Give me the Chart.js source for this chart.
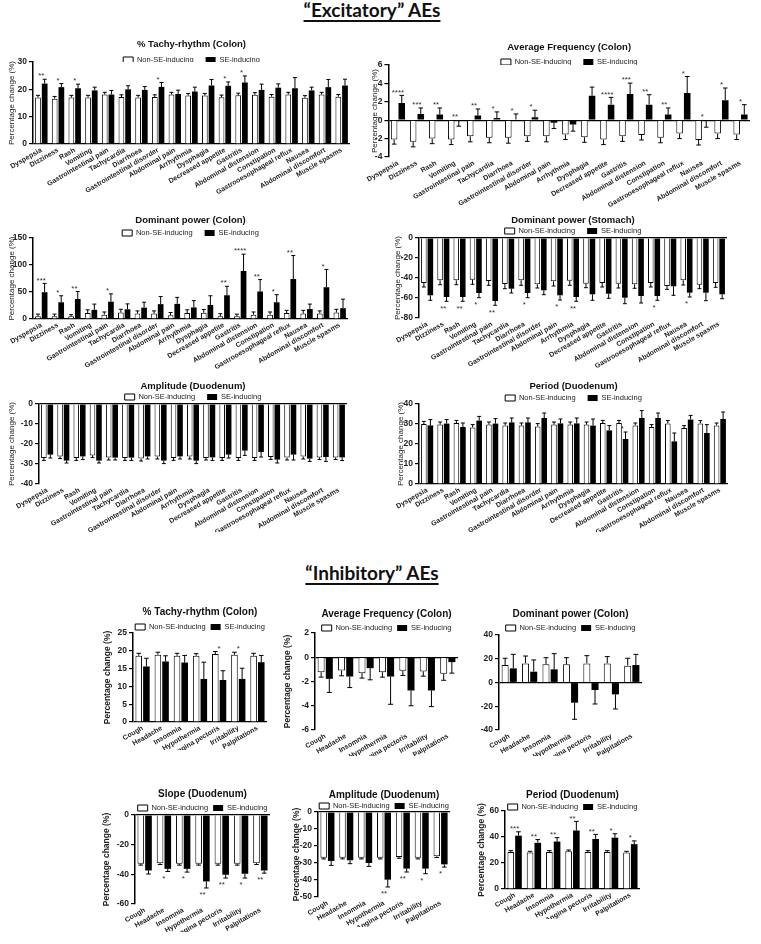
<!DOCTYPE html>
<html>
<head>
<meta charset="utf-8">
<title>Excitatory / Inhibitory AEs</title>
<script src="https://cdn.jsdelivr.net/npm/chart.js@4.4.1/dist/chart.umd.min.js"></script>
<style>
  html, body { margin: 0; padding: 0; background: #fff; }
  body { width: 761px; height: 944px; position: relative; overflow: hidden; }
  .section { position: absolute; left: 0; width: 744px; text-align: center; line-height: 19px; }
  .section span { font-family: Lato, 'Open Sans', sans-serif; font-weight: bold; font-size: 19px; color: #111;
                  text-decoration: underline; text-decoration-thickness: 2px; text-underline-offset: 3px; }
  canvas { position: absolute; }
</style>
</head>
<body>
<div class="section" style="top:0px"><span>“Excitatory” AEs</span></div>
<div class="section" style="top:563px"><span>“Inhibitory” AEs</span></div>
<script>
// Categories
const exCategories = ['Dyspepsia', 'Dizziness', 'Rash', 'Vomiting', 'Gastrointestinal pain', 'Tachycardia',
    'Diarrhoea', 'Gastrointestinal disorder', 'Abdominal pain', 'Arrhythmia', 'Dysphagia', 'Decreased appetite',
    'Gastritis', 'Abdominal distension', 'Constipation', 'Gastrooesophageal reflux', 'Nausea',
    'Abdominal discomfort', 'Muscle spasms'];
const inCategories = ['Cough', 'Headache', 'Insomnia', 'Hypothermia', 'Angina pectoris', 'Irritability', 'Palpitations'];

// "Excitatory" – % Tachy-rhythm (Colon)
const tachyNon = [17.0, 16.6, 17.0, 17.0, 18.1, 17.2, 17.0, 17.2, 18.1, 17.7, 17.7, 17.1, 17.8, 18.0, 17.3, 18.1, 16.9, 18.1, 17.3];
const tachyNonErr = [0.8, 0.8, 0.8, 0.8, 0.8, 0.8, 0.8, 0.8, 0.8, 0.8, 0.8, 0.8, 0.8, 0.8, 0.8, 0.8, 0.8, 0.8, 0.8];
const tachySe = [22.1, 20.8, 20.4, 19.6, 18.1, 20.0, 19.8, 20.9, 18.3, 19.2, 21.4, 21.3, 22.5, 19.8, 20.6, 20.4, 19.6, 20.8, 21.4];
const tachySeErr = [1.6, 1.3, 1.5, 1.2, 1.5, 1.3, 1.2, 1.6, 1.4, 1.6, 2.2, 1.4, 2.4, 2.1, 1.4, 3.9, 1.2, 2.8, 2.3];
const tachyStars = ['**', '*', '*', '', '', '', '', '*', '', '', '', '*', '*', '', '', '', '', '', ''];

// "Excitatory" – Average Frequency (Colon)
const freqNon = [-2.1, -2.35, -2.0, -2.1, -1.75, -1.9, -1.9, -1.75, -1.75, -1.55, -1.85, -2.1, -1.75, -1.6, -1.9, -1.45, -2.15, -1.45, -1.55];
const freqNonErr = [0.5, 0.55, 0.55, 0.55, 0.6, 0.55, 0.6, 0.55, 0.6, 0.55, 0.55, 0.55, 0.55, 0.55, 0.55, 0.55, 0.55, 0.55, 0.55];
const freqSe = [1.87, 0.68, 0.61, -0.07, 0.5, 0.25, 0.07, 0.32, -0.29, -0.47, 2.66, 1.69, 2.84, 1.69, 0.61, 2.95, -0.1, 2.16, 0.61];
const freqSeErr = [0.83, 0.65, 0.72, 0.58, 0.72, 0.65, 0.61, 0.76, 0.61, 0.72, 0.94, 0.79, 1.19, 1.08, 0.72, 1.8, 0.66, 1.34, 1.08];
const freqStars = ['****', '***', '**', '**', '**', '*', '*', '*', '', '', '', '****', '***', '**', '**', '*', '*', '*', '*'];

// "Excitatory" – Dominant power (Colon)
const domColNon = [5, 5, 5, 11, 8, 12, 10, 10, 7, 11, 11.6, 5, 5, 8, 8, 11, 10, 10, 12];
const domColNonErr = [4, 4, 3, 6, 5, 6, 5, 5, 5, 6, 6, 4.8, 4, 5, 5, 5, 6, 5, 6];
const domColSe = [49.6, 31, 37, 17, 32, 18, 21, 27.5, 28, 21.4, 26, 44, 89, 51, 31, 74, 18.4, 58.8, 20];
const domColSeErr = [16.4, 12, 14, 10.6, 14.5, 10, 10, 14, 12, 12.6, 17, 16.6, 31, 22, 14, 43.5, 9.2, 33, 16.7];
const domColStars = ['***', '*', '**', '', '*', '', '', '', '', '', '', '**', '****', '**', '*', '**', '', '*', ''];

// "Excitatory" – Dominant power (Stomach)
const domStNon = [-45, -42.3, -42.3, -41.7, -43, -46, -42.3, -46.3, -43.3, -42.7, -45.7, -45, -45.7, -46.3, -45, -48, -42.3, -46.7, -45];
const domStNonErr = [4, 4.4, 4.4, 4.6, 4.3, 4.7, 5, 3.7, 4.7, 4.6, 4, 4, 4.3, 4, 4, 3.3, 4.7, 4, 4.3];
const domStSe = [-57.3, -59, -59, -55, -63, -50.7, -55, -52.3, -57.3, -59, -56.3, -55.7, -59.7, -58, -58, -48.3, -54.7, -54.7, -56.3];
const domStSeErr = [5, 4.3, 4.3, 4.7, 4.3, 4.3, 4.7, 4.4, 4.7, 4.3, 6, 4.6, 6, 7, 4.3, 9, 4.3, 8, 4.4];
const domStStars = ['', '**', '**', '*', '**', '', '*', '', '*', '**', '', '', '', '', '*', '', '*', '', ''];

// "Excitatory" – Amplitude (Duodenum)
const ampNon = [-27, -26.2, -27, -25.7, -26.8, -27, -27.3, -26.3, -27, -26.3, -27, -27, -27, -27, -26.5, -26.8, -26.3, -26.7, -26.7];
const ampNonErr = [1.2, 1.1, 1.2, 1.1, 1.2, 1.2, 1.2, 1.2, 1.2, 1.2, 1.0, 1.2, 1.2, 1.2, 1.2, 1.2, 1.2, 1.1, 1.1];
const ampSe = [-25.3, -28.3, -26.2, -28.3, -26.8, -26.8, -26.2, -28.3, -26.2, -28.3, -26.7, -25.3, -23.3, -24, -27.8, -25.3, -27.3, -26.5, -26.7];
const ampSeErr = [1.7, 1.2, 1.6, 1.2, 1.2, 1.4, 1.3, 1.5, 1.3, 1.5, 1.5, 1.7, 2.4, 2.5, 1.7, 2.7, 1.4, 2.2, 1.6];

// "Excitatory" – Period (Duodenum)
const perNon = [30, 29.7, 30.5, 28.3, 29.7, 29.3, 29.2, 28.8, 29.7, 29.7, 29.7, 30.5, 30.5, 29.3, 28.5, 30.3, 28, 30.3, 29.3];
const perNonErr = [1.3, 1.3, 1.3, 1.4, 1.3, 1.2, 1.3, 1.4, 1.3, 1.3, 1.3, 1.3, 1.3, 1.2, 1.2, 1.4, 1.2, 1.4, 1.2];
const perSe = [29.3, 30.2, 28.5, 31.7, 30.2, 30.8, 30.8, 33, 30.3, 30.3, 29.2, 26.8, 22.5, 33, 33, 21.3, 32.2, 25.5, 32.5];
const perSeErr = [2.9, 2, 2, 2.1, 2.5, 2.2, 2.2, 2.5, 2.2, 2.7, 3.3, 2.4, 3.5, 3.7, 2.5, 4.2, 2.1, 4.2, 3.5];
const perStars = ['', '', '', '', '', '', '', '', '', '', '', '', '*', '', '', '', '', '', ''];

// "Inhibitory" – % Tachy-rhythm (Colon)
const inTachyNon = [18.6, 18.9, 18.6, 18.6, 19.1, 18.9, 18.6];
const inTachyNonErr = [0.7, 0.7, 0.7, 0.6, 0.7, 0.7, 0.7];
const inTachySe = [15.6, 17, 16.7, 12.1, 11.8, 12.1, 16.8];
const inTachySeErr = [2.3, 1.6, 2, 4.7, 2.6, 3, 1.9];
const inTachyStars = ['', '', '', '', '*', '*', ''];

// "Inhibitory" – Average Frequency (Colon)
const inFreqNon = [-1.23, -1.09, -1.31, -1.23, -1.12, -1.17, -1.37];
const inFreqNonErr = [0.41, 0.44, 0.41, 0.41, 0.38, 0.39, 0.53];
const inFreqSe = [-1.78, -1.59, -0.9, -1.59, -2.74, -2.74, -0.4];
const inFreqSeErr = [1.12, 0.91, 0.96, 2.29, 1.26, 1.33, 0.91];

// "Inhibitory" – Dominant power (Colon)
const inDomNon = [14.7, 16.1, 15.3, 15.3, 16.1, 16.1, 14.2];
const inDomNonErr = [5.7, 6.2, 5.6, 5.6, 6.5, 5.7, 6.2];
const inDomSe = [11.9, 9.1, 11.1, -17, -6.3, -10, 14.7];
const inDomSeErr = [11.8, 9.9, 13.2, 14, 11.8, 12.3, 9];

// "Inhibitory" – Slope (Duodenum)
const slopeNon = [-32.9, -32.5, -32.9, -32.9, -32.9, -32.9, -32.5];
const slopeNonErr = [0.9, 0.9, 0.9, 0.9, 0.9, 0.9, 0.9];
const slopeSe = [-37.4, -36.3, -36.3, -44.8, -40.3, -39.6, -37.4];
const slopeSeErr = [2.4, 1.8, 2.2, 4.4, 2.2, 2.9, 1.8];
const slopeStars = ['', '*', '*', '**', '**', '*', '**'];

// "Inhibitory" – Amplitude (Duodenum)
const inAmpNon = [-26.9, -26.9, -26.9, -26.9, -26.5, -26.9, -26.1];
const inAmpNonErr = [0.7, 0.7, 0.7, 0.7, 0.7, 0.7, 0.7];
const inAmpSe = [-28.8, -28.4, -30, -39.8, -33.3, -33.3, -30.8];
const inAmpSeErr = [2.6, 2, 2, 4.3, 2, 3, 1.6];
const inAmpStars = ['', '', '', '**', '**', '*', '*'];

// "Inhibitory" – Period (Duodenum)
const inPerNon = [28.5, 28, 28.5, 29, 28.5, 28.5, 28];
const inPerNonErr = [1, 1, 1, 1, 1, 1, 1];
const inPerSe = [41, 35.5, 36.5, 45, 38.5, 39.5, 34.5];
const inPerSeErr = [3, 2.5, 3, 7, 3.5, 3, 2.5];
const inPerStars = ['***', '**', '**', '**', '**', '*', '*'];

const FONT = "'Liberation Sans', Arial, sans-serif";
Chart.defaults.font.family = FONT;
Chart.defaults.color = '#222';

// SEM bars, drawn away from zero
const errorBarPlugin = {
    id: 'errorBars',
    afterDatasetsDraw(chart) {
        const ctx = chart.ctx;
        const yScale = chart.scales.y;
        ctx.save();
        ctx.strokeStyle = '#000';
        ctx.lineWidth = 1;
        chart.data.datasets.forEach((ds, di) => {
            if (!ds.errors) return;
            chart.getDatasetMeta(di).data.forEach((bar, i) => {
                const v = ds.data[i];
                const end = v < 0 ? v - ds.errors[i] : v + ds.errors[i];
                const y0 = yScale.getPixelForValue(v);
                const y1 = yScale.getPixelForValue(end);
                const cap = bar.width * 0.35;
                ctx.beginPath();
                ctx.moveTo(bar.x, y0);
                ctx.lineTo(bar.x, y1);
                ctx.moveTo(bar.x - cap, y1);
                ctx.lineTo(bar.x + cap, y1);
                ctx.stroke();
            });
        });
        ctx.restore();
    }
};

// significance asterisks
const starPlugin = {
    id: 'stars',
    afterDatasetsDraw(chart, args, opts) {
        if (!opts || !opts.labels) return;
        const ctx = chart.ctx;
        const yScale = chart.scales.y;
        const xScale = chart.scales.x;
        ctx.save();
        ctx.fillStyle = '#333';
        ctx.font = opts.size + 'px ' + FONT;
        ctx.textAlign = 'center';
        opts.labels.forEach((s, i) => {
            if (!s) return;
            const ends = [0];
            chart.data.datasets.forEach((ds, di) => {
                if (opts.mode === 'aboveSE' && di === 0) return;
                const v = ds.data[i];
                ends.push(v, v < 0 ? v - ds.errors[i] : v + ds.errors[i]);
            });
            const x = xScale.getPixelForValue(i);
            if (opts.mode === 'below') {
                ctx.textBaseline = 'top';
                ctx.fillText(s, x, yScale.getPixelForValue(Math.min(...ends)) + 3);
            } else {
                ctx.textBaseline = 'bottom';
                ctx.fillText(s, x, yScale.getPixelForValue(Math.max(...ends)) + 1);
            }
        });
        ctx.restore();
    }
};

Chart.register(errorBarPlugin, starPlugin);

// legend: fixed height, one row, centred over the plot
function legendBox(h, minWidth) {
    return {
        id: 'legendBox',
        beforeInit(chart) {
            const fit = chart.legend.fit;
            chart.legend.fit = function () {
                this.maxWidth = Math.max(this.maxWidth, 400);
                fit.call(this);
                this.height = h;
            };
        },
        afterLayout(chart) {
            const lg = chart.legend;
            const c = (chart.chartArea.left + chart.chartArea.right) / 2;
            const w = Math.max(minWidth, chart.chartArea.right - chart.chartArea.left);
            lg.left = c - w / 2;
            lg.right = c + w / 2;
            lg.width = w;
        }
    };
}

const EX = { titleSize: 9.5, legendSize: 7.5, legendPad: 12, yTitleSize: 8, yTitleBold: false, tickSize: 8.5, xFont: 7, rot: 30 };
const IN = { titleSize: 10, legendSize: 7.5, legendPad: 5, yTitleSize: 8.5, yTitleBold: true, tickSize: 8.5, xFont: 7, rot: 30 };

function addPanel(p) {
    const lhT = p.titleSize * 1.2;
    const top = Math.round(p.titleY - lhT / 2);
    const left = Math.round(p.yTitleX !== null ? p.yTitleX - 8 : p.L - 30);
    const right = Math.round(Math.max(p.R + 4, (p.L + p.R) / 2 + 82));
    const lhY = p.yTitleSize * 1.2;
    const yBoxLeft = p.yTitleX !== null ? p.yTitleX - lhY / 2 : p.L - 24;
    const itemH = Math.max(p.legendSize, 6);
    const titleH = Math.max(0, p.legendY - top - p.legendPad - itemH / 2);
    const legendH = p.T - top - titleH;

    const canvas = document.createElement('canvas');
    canvas.width = right - left;
    canvas.height = Math.round(p.B - top + p.xH);
    canvas.style.left = left + 'px';
    canvas.style.top = top + 'px';
    document.body.appendChild(canvas);

    return new Chart(canvas, {
        type: 'bar',
        data: {
            labels: p.labels,
            datasets: [
                { label: 'Non-SE-inducing', data: p.non, errors: p.nonErr, backgroundColor: '#fff', borderColor: '#000', borderWidth: 1 },
                { label: 'SE-inducing', data: p.se, errors: p.seErr, backgroundColor: '#000', borderColor: '#000', borderWidth: 0 }
            ]
        },
        options: {
            responsive: false,
            animation: false,
            devicePixelRatio: 1,
            layout: { padding: { left: yBoxLeft - left, right: right - p.R, top: 0, bottom: 0 } },
            datasets: { bar: { categoryPercentage: 0.8, barPercentage: 0.86 } },
            scales: {
                x: {
                    grid: { display: false, drawTicks: false },
                    border: { display: false },
                    ticks: { autoSkip: false, minRotation: p.rot, maxRotation: p.rot, padding: 2,
                             font: { size: p.xFont, weight: 'bold' }, color: '#222' },
                    afterFit: s => { s.height = p.xH; }
                },
                y: {
                    min: p.min, max: p.max,
                    ticks: { stepSize: p.step, padding: 2, font: { size: p.tickSize, weight: 'bold' }, color: '#222' },
                    grid: {
                        color: c => (c.tick && c.tick.value === 0) ? '#000' : 'rgba(0,0,0,0)',
                        lineWidth: 1.2, tickColor: '#000', tickLength: 4
                    },
                    border: { display: true, color: '#000', width: 1.5 },
                    title: {
                        display: p.yTitleX !== null, text: 'Percentage change (%)', padding: 0, color: '#222',
                        font: { size: p.yTitleSize, weight: p.yTitleBold ? 'bold' : 'normal' }
                    },
                    afterFit: s => { s.width = p.L - yBoxLeft; }
                }
            },
            plugins: {
                title: {
                    display: true, text: p.title, color: '#111', fullSize: false,
                    font: { size: p.titleSize, weight: 'bold' },
                    padding: { top: 0, bottom: titleH - lhT }
                },
                legend: {
                    fullSize: false,
                    labels: { boxWidth: 10, boxHeight: 6, padding: p.legendPad, color: '#222', font: { size: p.legendSize } }
                },
                tooltip: { enabled: false },
                stars: { labels: p.stars || null, mode: p.starMode || 'above', size: 8 }
            }
        },
        plugins: [legendBox(legendH, 150)]
    });
}

// "Excitatory" AEs
addPanel({ ...EX, title: '% Tachy-rhythm (Colon)', labels: exCategories, non: tachyNon, nonErr: tachyNonErr, se: tachySe, seErr: tachySeErr,
    stars: tachyStars, min: 0, max: 30, step: 10,
    titleY: 45, legendY: 60, L: 33, T: 62, R: 350, B: 144, yTitleX: 12, xH: 56 });
addPanel({ ...EX, title: 'Average Frequency (Colon)', labels: exCategories, non: freqNon, nonErr: freqNonErr, se: freqSe, seErr: freqSeErr,
    stars: freqStars, min: -4, max: 6, step: 2,
    titleY: 48, legendY: 62, L: 387, T: 65, R: 750, B: 157, yTitleX: 373, xH: 50 });
addPanel({ ...EX, title: 'Dominant power (Colon)', labels: exCategories, non: domColNon, nonErr: domColNonErr, se: domColSe, seErr: domColSeErr,
    stars: domColStars, min: 0, max: 150, step: 50,
    titleY: 221, legendY: 233, L: 33, T: 238, R: 348, B: 319, yTitleX: 12, xH: 52 });
addPanel({ ...EX, title: 'Dominant power (Stomach)', labels: exCategories, non: domStNon, nonErr: domStNonErr, se: domStSe, seErr: domStSeErr,
    stars: domStStars, starMode: 'below', min: -80, max: 0, step: 20,
    titleY: 221, legendY: 231, L: 419, T: 238, R: 727, B: 318, yTitleX: 398, xH: 52 });
addPanel({ ...EX, title: 'Amplitude (Duodenum)', labels: exCategories, non: ampNon, nonErr: ampNonErr, se: ampSe, seErr: ampSeErr,
    min: -40, max: 0, step: 10,
    titleY: 387, legendY: 397, L: 39, T: 404, R: 347, B: 484, yTitleX: 12, xH: 48 });
addPanel({ ...EX, title: 'Period (Duodenum)', labels: exCategories, non: perNon, nonErr: perNonErr, se: perSe, seErr: perSeErr,
    stars: perStars, starMode: 'aboveSE', min: 0, max: 40, step: 10,
    titleY: 387, legendY: 398, L: 419, T: 404, R: 728, B: 484, yTitleX: 401, xH: 48 });

// "Inhibitory" AEs
addPanel({ ...IN, title: '% Tachy-rhythm (Colon)', labels: inCategories, non: inTachyNon, nonErr: inTachyNonErr, se: inTachySe, seErr: inTachySeErr,
    stars: inTachyStars, min: 0, max: 25, step: 5,
    titleY: 612, legendY: 627, L: 133, T: 633, R: 267, B: 722, yTitleX: 108, xH: 28 });
addPanel({ ...IN, title: 'Average Frequency (Colon)', labels: inCategories, non: inFreqNon, nonErr: inFreqNonErr, se: inFreqSe, seErr: inFreqSeErr,
    min: -6, max: 2, step: 2,
    titleY: 614, legendY: 628, L: 315, T: 633, R: 458, B: 730, yTitleX: 288, xH: 26 });
addPanel({ ...IN, title: 'Dominant power (Colon)', labels: inCategories, non: inDomNon, nonErr: inDomNonErr, se: inDomSe, seErr: inDomSeErr,
    min: -40, max: 40, step: 20,
    titleY: 614, legendY: 628, L: 499, T: 635, R: 642, B: 730, yTitleX: null, xH: 26 });
addPanel({ ...IN, title: 'Slope (Duodenum)', labels: inCategories, non: slopeNon, nonErr: slopeNonErr, se: slopeSe, seErr: slopeSeErr,
    stars: slopeStars, starMode: 'below', min: -60, max: 0, step: 20,
    titleY: 794, legendY: 808, L: 135, T: 815, R: 270, B: 904, yTitleX: 107, xH: 28 });
addPanel({ ...IN, title: 'Amplitude (Duodenum)', labels: inCategories, non: inAmpNon, nonErr: inAmpNonErr, se: inAmpSe, seErr: inAmpSeErr,
    stars: inAmpStars, starMode: 'below', min: -50, max: 0, step: 10,
    titleY: 795, legendY: 806, L: 318, T: 812, R: 450, B: 897, yTitleX: 297, xH: 30 });
addPanel({ ...IN, title: 'Period (Duodenum)', labels: inCategories, non: inPerNon, nonErr: inPerNonErr, se: inPerSe, seErr: inPerSeErr,
    stars: inPerStars, min: 0, max: 60, step: 20,
    titleY: 795, legendY: 807, L: 505, T: 811, R: 640, B: 889, yTitleX: 482, xH: 30 });
</script>
</body>
</html>
